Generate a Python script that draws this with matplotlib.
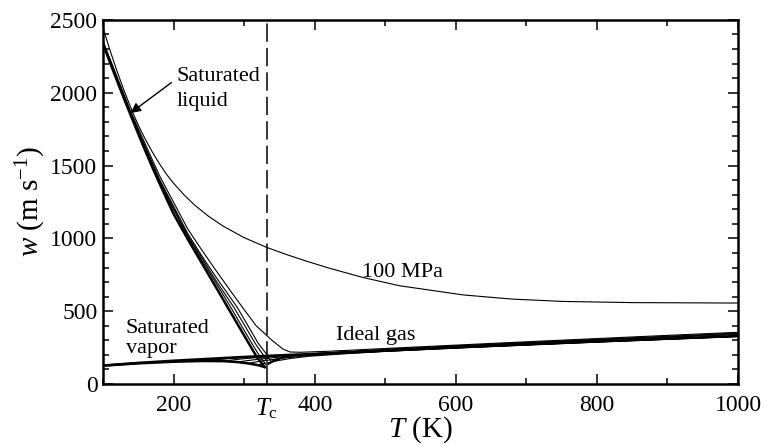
import matplotlib
matplotlib.use("Agg")
from matplotlib import pyplot as plt
from matplotlib.ticker import MultipleLocator

plt.rcParams['font.family'] = ['Liberation Serif', 'DejaVu Serif']
plt.rcParams['mathtext.fontset'] = 'custom'
plt.rcParams['mathtext.rm'] = 'Liberation Serif'
plt.rcParams['mathtext.it'] = 'Liberation Serif:italic'

# critical temperature (K)
Tc = 332

# saturated liquid
T_sl = [100, 110, 120, 130, 140, 150, 160, 170, 180, 190, 200, 220, 240, 260, 277, 291, 305, 318, 329]
w_sl = [2335, 2206, 2080, 1957, 1836, 1717, 1600, 1487, 1378, 1272, 1168, 995, 830, 665, 524, 408, 292, 185, 117]

# saturated vapor
T_sv = [100, 150, 200, 240, 270, 290, 305, 318, 329]
w_sv = [126, 142, 153, 158, 157, 151, 142, 131, 117]

# ideal gas
T_ig = [100, 150, 200, 250, 300, 350, 400, 500, 600, 700, 800, 900, 1000]
w_ig = [127, 145, 160, 173, 186, 197, 207, 229, 251, 272, 292, 311, 330]

# 100 MPa isobar
T_100 = [100, 110, 120, 130, 142, 150, 160, 170, 180, 190, 200, 215, 230, 250, 270, 300, 332,
         360, 390, 421, 468, 520, 610, 680, 752, 850, 1000]
w_100 = [2445, 2290, 2146, 2013, 1865, 1777, 1680, 1592, 1512, 1440, 1378, 1298, 1228, 1150, 1085, 1005, 938,
         889, 841, 795, 732, 675, 612, 583, 567, 559, 556]

# supercritical isobars
T_pa = [100, 140, 180, 220, 240, 260, 280, 296, 312, 324, 332, 340, 355, 380, 420, 500, 600, 700, 800, 900, 1000]
w_pa = [2338, 1840, 1386, 1012, 851, 694, 535, 402, 270, 176, 128, 150, 180, 200, 214, 234, 257, 279, 300, 320, 340]

T_pb = [100, 140, 180, 220, 240, 260, 286, 301, 316, 327, 334, 342, 355, 375, 410, 460, 500, 600, 700, 800, 900, 1000]
w_pb = [2342, 1845, 1395, 1021, 866, 711, 522, 400, 276, 200, 140, 160, 182, 198, 212, 224, 236, 260, 282, 303, 324, 345]

T_pc = [100, 140, 180, 220, 240, 260, 290, 305, 320, 331, 338, 346, 360, 380, 420, 500, 600, 700, 800, 900, 1000]
w_pc = [2347, 1851, 1407, 1034, 880, 735, 528, 404, 279, 210, 155, 172, 190, 202, 215, 238, 262, 285, 307, 328, 350]

T_pd = [100, 140, 180, 220, 240, 260, 280, 298, 317, 340, 355, 365, 380, 420, 500, 600, 700, 800, 900, 1000]
w_pd = [2355, 1862, 1431, 1065, 920, 780, 644, 524, 400, 298, 240, 220, 218, 225, 244, 267, 290, 312, 334, 355]

# subcritical isobars, vapor side
T_v1 = [240, 260, 280, 300, 340, 400, 500, 600, 800, 1000]
w_v1 = [158, 167, 175, 182, 194, 205, 228, 250, 291, 329]
T_v2 = [270, 285, 300, 320, 350, 400, 500, 600, 800, 1000]
w_v2 = [157, 166, 174, 182, 192, 204, 227, 250, 290, 328]
T_v3 = [290, 305, 320, 340, 370, 420, 500, 600, 800, 1000]
w_v3 = [151, 161, 170, 180, 193, 207, 226, 249, 290, 328]
T_v4 = [305, 320, 340, 360, 390, 440, 500, 600, 800, 1000]
w_v4 = [142, 154, 168, 180, 194, 209, 225, 248, 289, 327]
T_v5 = [318, 330, 345, 365, 390, 440, 500, 600, 800, 1000]
w_v5 = [131, 142, 158, 175, 190, 207, 224, 247, 288, 326]

thin = 0.8
thick = 1.8

fig = plt.figure(figsize=(7.66, 4.44), dpi=100)
ax = fig.add_axes([0.1345, 0.1351, 0.829, 0.82])

for T, w in [(T_pa, w_pa), (T_pb, w_pb), (T_pc, w_pc), (T_pd, w_pd),
             (T_v1, w_v1), (T_v2, w_v2), (T_v3, w_v3), (T_v4, w_v4), (T_v5, w_v5)]:
    ax.plot(T, w, color='black', lw=thin)
ax.plot(T_100, w_100, color='black', lw=thin)
ax.plot(T_ig, w_ig, color='black', lw=thick)
ax.plot(T_sv, w_sv, color='black', lw=thick)
ax.plot(T_sl, w_sl, color='black', lw=thick)

ax.axvline(Tc, color='black', lw=1.1, dashes=(12, 4))

ax.set_xlim(100, 1000)
ax.set_ylim(0, 2500)
ax.xaxis.set_major_locator(MultipleLocator(200))
ax.xaxis.set_minor_locator(MultipleLocator(100))
ax.yaxis.set_major_locator(MultipleLocator(500))
ax.yaxis.set_minor_locator(MultipleLocator(100))
ax.tick_params(which='both', direction='in', top=True, right=True, labelsize=17, width=1.1)
ax.tick_params(which='major', length=7)
ax.tick_params(which='minor', length=4)
ax.tick_params(axis='x', pad=8)
ax.tick_params(axis='y', pad=4)
for s in ax.spines.values():
    s.set_linewidth(1.8)

ax.text(Tc, -0.035, r'$T_{\mathrm{c}}$', transform=ax.get_xaxis_transform(),
        ha='center', va='top', fontsize=18)

ax.set_xlabel(r'$T$ (K)', fontsize=21, labelpad=-1)
ax.set_ylabel(r'$w$ (m s$^{-1}$)', fontsize=21, labelpad=2)

fs = 16
ax.text(204, 2078, 'Saturated', fontsize=fs, va='baseline')
ax.text(204, 1912, 'liquid', fontsize=fs, va='baseline')
ax.annotate('', xy=(139, 1861), xytext=(197, 2070),
            arrowprops=dict(arrowstyle='-|>', color='black', lw=1.0,
                            mutation_scale=15, shrinkA=0, shrinkB=0))
ax.text(132, 350, 'Saturated', fontsize=fs, va='baseline')
ax.text(132, 213, 'vapor', fontsize=fs, va='baseline')
ax.text(467, 735, '100 MPa', fontsize=fs, va='baseline')
ax.text(430, 302, 'Ideal gas', fontsize=fs, va='baseline')

fig.savefig('out.png', dpi=100)
